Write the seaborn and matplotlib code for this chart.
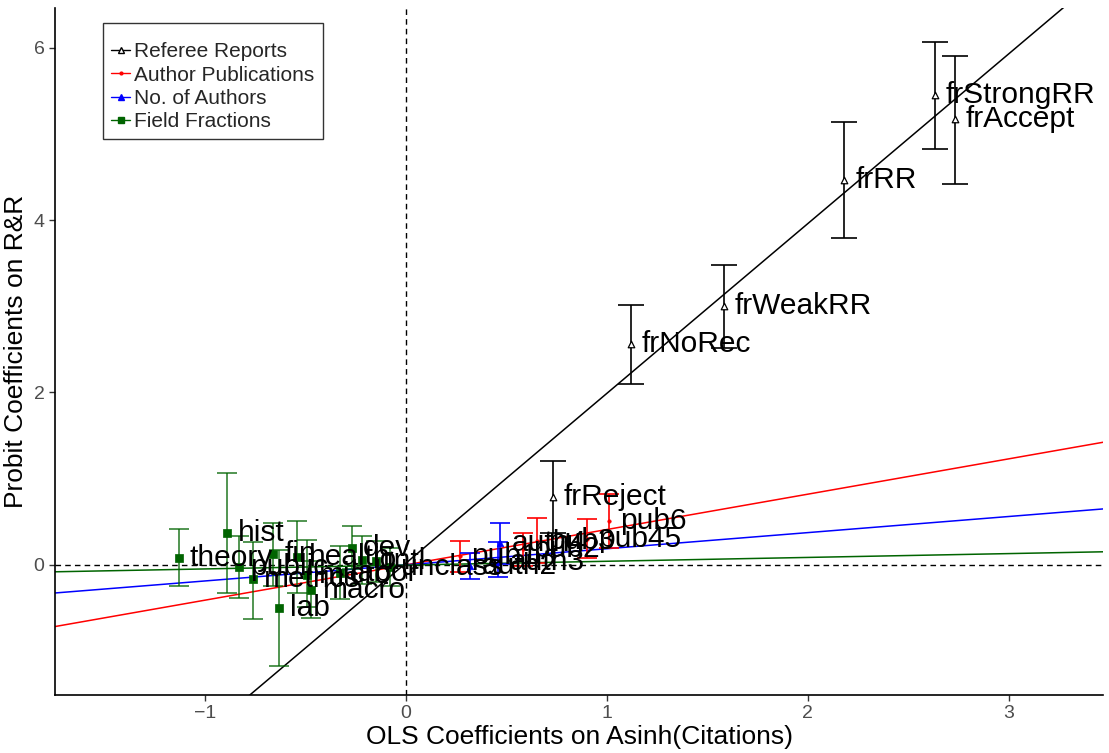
import numpy as np
import pandas as pd
import matplotlib
matplotlib.use("Agg")
import matplotlib.pyplot as plt
from matplotlib.lines import Line2D
import seaborn as sns

# ---------------- data ----------------
ref_labels = ["frReject", "frNoRec", "frWeakRR", "frRR", "frStrongRR", "frAccept"]
ref_x = [0.73, 1.12, 1.58, 2.18, 2.63, 2.73]
ref_y = [0.79, 2.56, 3.00, 4.47, 5.45, 5.17]
ref_lo = [0.37, 2.10, 2.52, 3.79, 4.83, 4.42]
ref_hi = [1.21, 3.02, 3.48, 5.14, 6.07, 5.90]

pub_labels = ["pub1", "pub2", "pub3", "pub45", "pub6"]
pub_x = [0.27, 0.58, 0.65, 0.90, 1.01]
pub_y = [0.10, 0.18, 0.28, 0.30, 0.51]
pub_lo = [-0.08, -0.01, 0.02, 0.08, 0.20]
pub_hi = [0.28, 0.37, 0.54, 0.53, 0.82]

auth_labels = ["auth2", "auth3", "auth4"]
auth_x = [0.32, 0.46, 0.47]
auth_y = [-0.01, 0.03, 0.25]
auth_lo = [-0.16, -0.14, 0.01]
auth_hi = [0.14, 0.27, 0.49]

field_labels = ["theory", "hist", "public", "metrics", "fin", "lab", "health",
                "micro", "macro", "labor", "dev", "io", "intl", "unclass"]
field_x = [-1.13, -0.89, -0.83, -0.76, -0.66, -0.63, -0.54,
           -0.49, -0.47, -0.33, -0.27, -0.22, -0.15, -0.08]
field_y = [0.08, 0.37, -0.02, -0.17, 0.12, -0.50, 0.09,
           -0.12, -0.29, -0.09, 0.20, 0.06, 0.04, -0.03]
field_lo = [-0.25, -0.33, -0.38, -0.63, -0.24, -1.17, -0.33,
            -0.49, -0.62, -0.40, -0.05, -0.22, -0.20, -0.25]
field_hi = [0.41, 1.07, 0.34, 0.27, 0.48, 0.17, 0.51,
            0.29, 0.04, 0.22, 0.45, 0.34, 0.28, 0.19]

group_names = ["Referee Reports", "Author Publications", "No. of Authors", "Field Fractions"]
group_slope = [1.97, 0.41, 0.187, 0.0445]
group_icpt = [0.02, 0.0, 0.0, -0.003]

xlim = (-1.746, 3.468)
ylim = (-1.51, 6.46)

# ---------------- style ----------------
sns.set_theme(style="white")
plt.rcParams["font.family"] = ["Liberation Sans", "DejaVu Sans"]

fig = plt.figure(figsize=(11.09, 7.53), dpi=100)
ax = fig.add_axes([55 / 1109, 1 - 695 / 753, (1103 - 55) / 1109, (695 - 8) / 753])

colors = ["black", "red", "blue", "darkgreen"]
groups = [
    (ref_labels, ref_x, ref_y, ref_lo, ref_hi),
    (pub_labels, pub_x, pub_y, pub_lo, pub_hi),
    (auth_labels, auth_x, auth_y, auth_lo, auth_hi),
    (field_labels, field_x, field_y, field_lo, field_hi),
]
markers = ["^", "o", "^", "s"]
msizes = [22, 6, 22, 30]
caps = [9.5, 7.5, 7.5, 7.5]

# reference dashed lines
ax.axhline(0, color="black", ls=(0, (4, 3)), lw=1.0, zorder=1)
ax.axvline(0, color="black", ls=(0, (4, 3)), lw=1.0, zorder=1)

# fitted lines
xs = np.linspace(xlim[0], xlim[1], 50)
for name, s, b, c in zip(group_names, group_slope, group_icpt, colors):
    line_df = pd.DataFrame({"x": xs, "y": b + s * xs})
    sns.lineplot(data=line_df, x="x", y="y", color=c, lw=1.1, ax=ax, zorder=2)

# error bars, points, labels
for (labs, x, y, lo, hi), c, m, ms, cap in zip(groups, colors, markers, msizes, caps):
    x = np.array(x); y = np.array(y); lo = np.array(lo); hi = np.array(hi)
    alpha = 0.8 if c == "darkgreen" else 1.0
    ax.errorbar(x, y, yerr=[y - lo, hi - y], fmt="none", ecolor=c, elinewidth=1.2,
                capsize=cap, capthick=1.2, alpha=alpha, zorder=3)
    df = pd.DataFrame({"x": x, "y": y})
    if c == "black":
        sns.scatterplot(data=df, x="x", y="y", marker=m, s=ms, facecolor="white",
                        edgecolor="black", linewidth=0.9, ax=ax, zorder=4)
    else:
        sns.scatterplot(data=df, x="x", y="y", marker=m, s=ms, color=c,
                        edgecolor=c, linewidth=0.5, ax=ax, zorder=4)
    for lab, xi, yi in zip(labs, x, y):
        ax.text(xi + 0.055, yi, lab, fontsize=21.5, ha="left", va="center",
                color="black", zorder=5)

ax.set_xlim(*xlim)
ax.set_ylim(*ylim)
ax.set_xticks([-1, 0, 1, 2, 3])
ax.set_yticks([0, 2, 4, 6])
ax.set_xlabel("OLS Coefficients on Asinh(Citations)", fontsize=19, color="black", labelpad=2)
ax.set_ylabel("Probit Coefficients on R&R", fontsize=19, color="black", labelpad=4)
ax.tick_params(axis="both", which="major", labelsize=14, labelcolor="#4D4D4D",
               color="#333333", length=4, width=1, direction="out", bottom=True, left=True)

for side in ["top", "right"]:
    ax.spines[side].set_visible(False)
for side in ["left", "bottom"]:
    ax.spines[side].set_color("black")
    ax.spines[side].set_linewidth(1.2)

handles = [
    Line2D([0], [0], color="black", marker="^", markerfacecolor="white",
           markeredgecolor="black", markersize=4, lw=1),
    Line2D([0], [0], color="red", marker="o", markersize=2, lw=1),
    Line2D([0], [0], color="blue", marker="^", markersize=4, lw=1),
    Line2D([0], [0], color="darkgreen", marker="s", markersize=4, lw=1),
]
leg = fig.legend(handles, group_names, loc="upper left",
                 bbox_to_anchor=(103 / 1109, 1 - 23 / 753), bbox_transform=fig.transFigure,
                 fontsize=15, frameon=True, fancybox=False, edgecolor="black",
                 handlelength=0.9, handletextpad=0.2, labelspacing=0.2,
                 borderpad=0.4, borderaxespad=0, title=" ", title_fontsize=5)
leg.get_frame().set_linewidth(1.0)

fig.savefig("out.png", dpi=100)
